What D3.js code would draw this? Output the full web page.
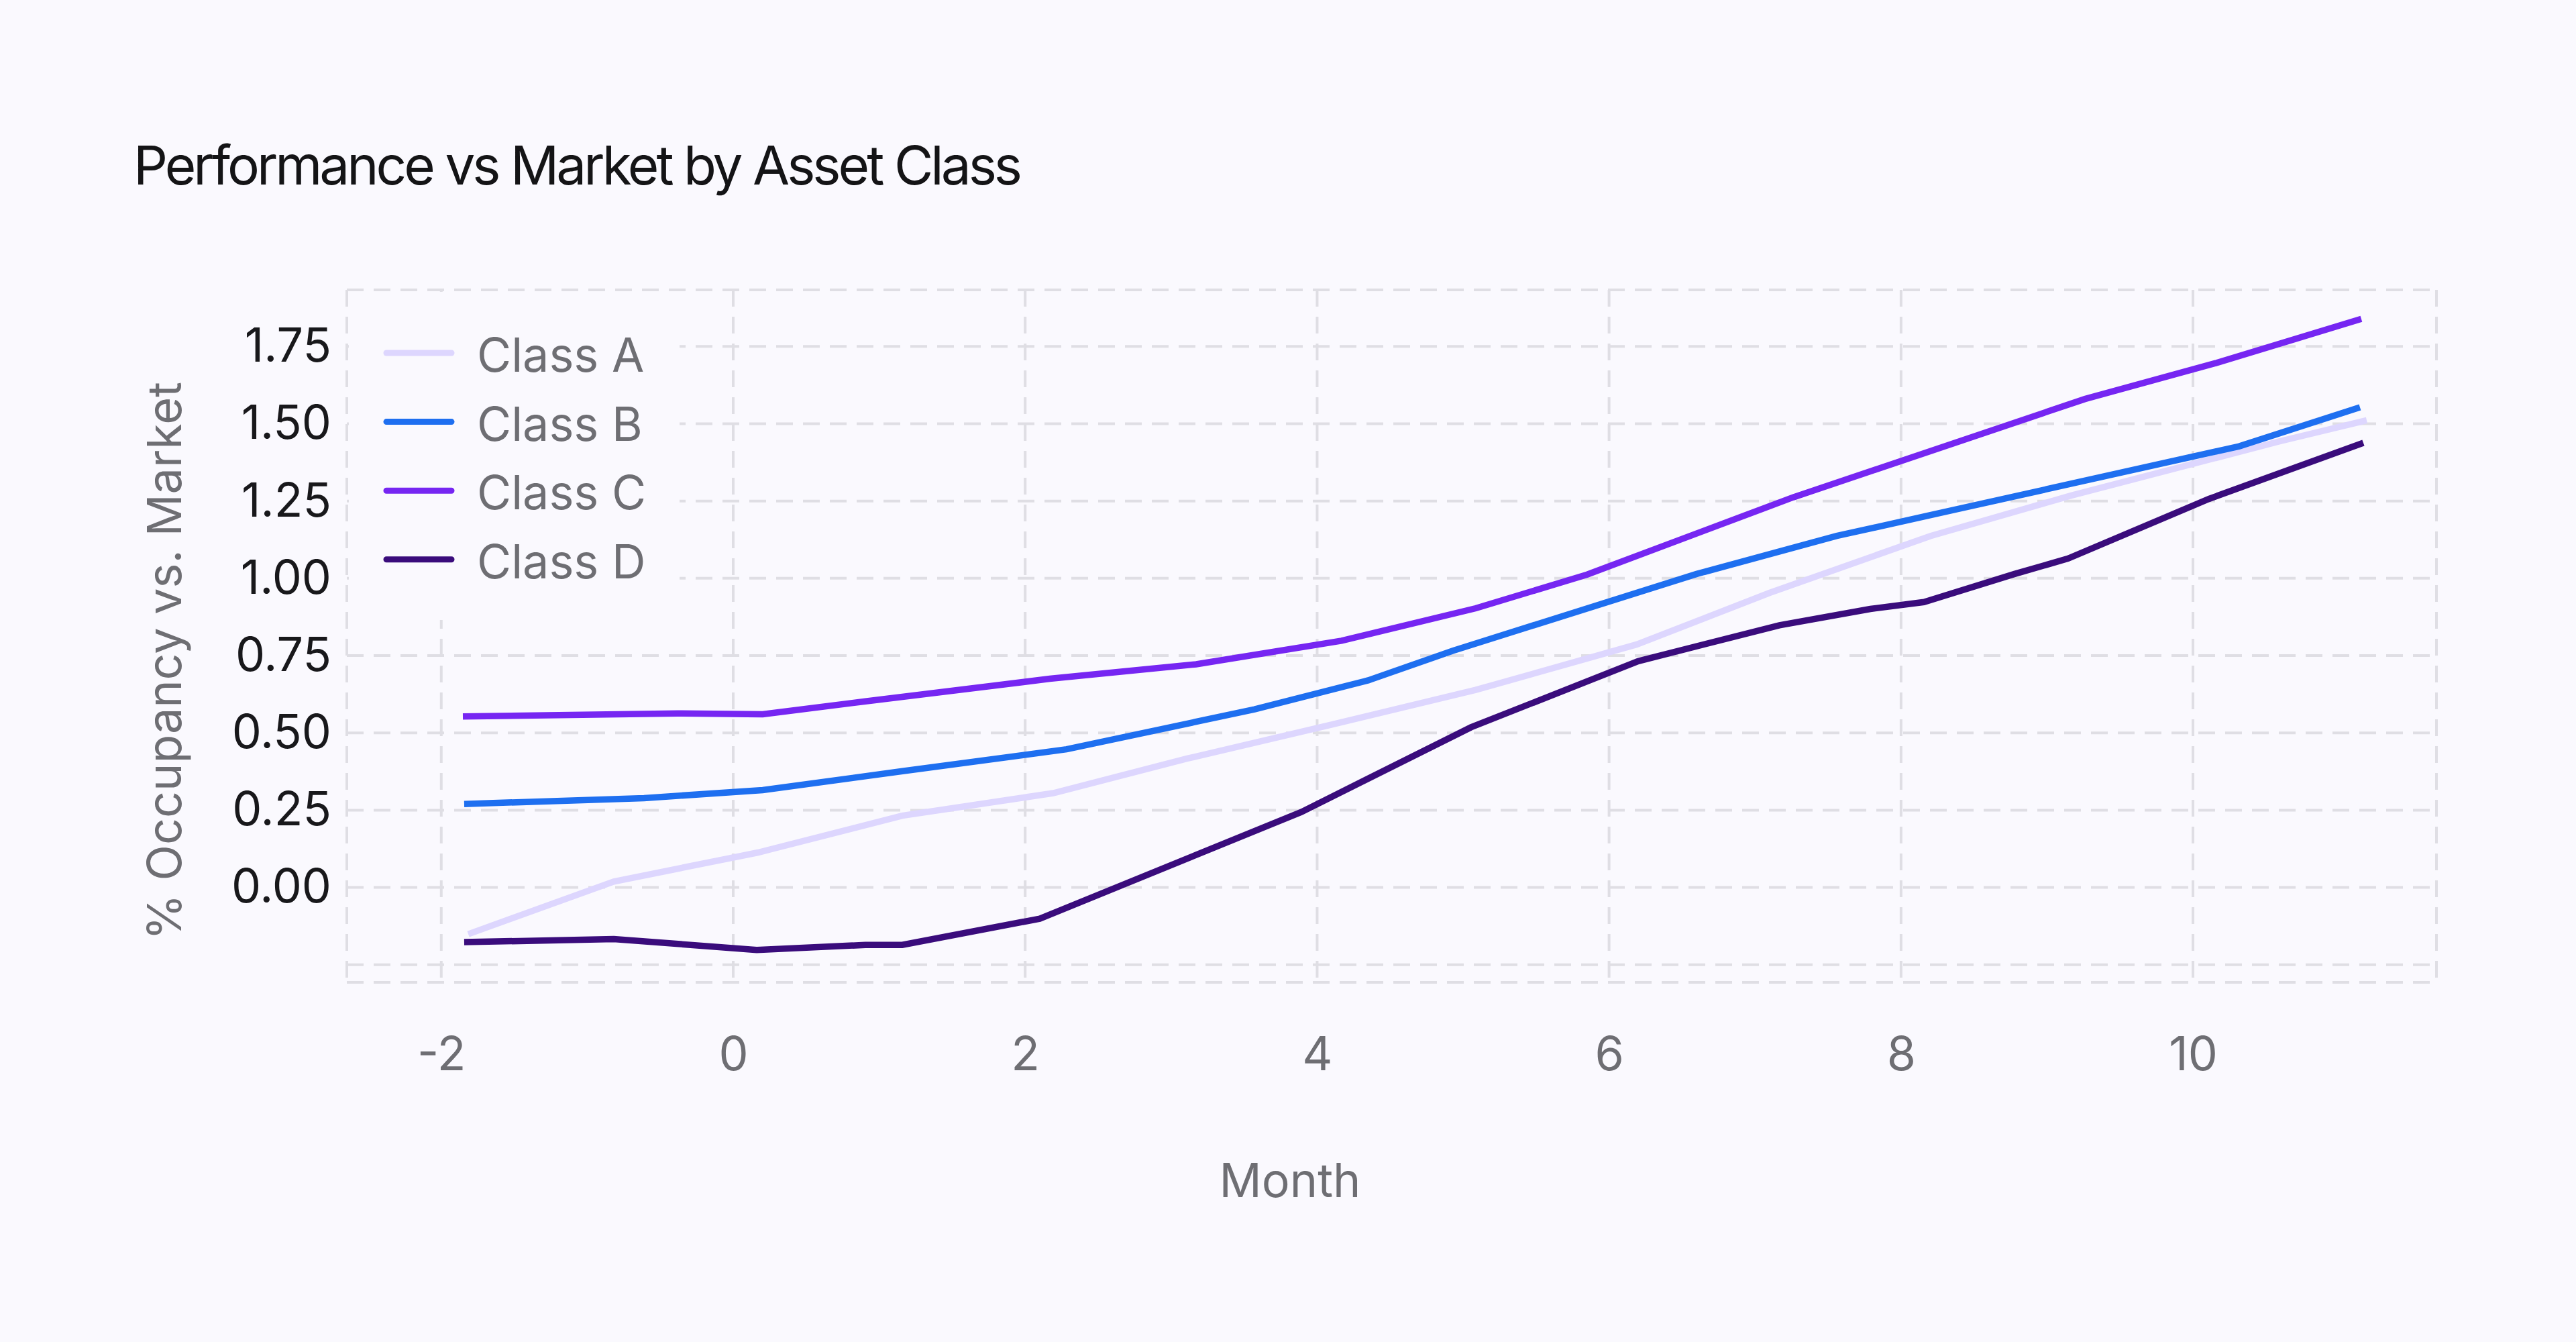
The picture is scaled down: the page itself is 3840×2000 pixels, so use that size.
<!DOCTYPE html>
<html>
<head>
<meta charset="utf-8">
<script src="https://cdn.jsdelivr.net/npm/d3@7"></script>
<style>
  html, body { margin: 0; padding: 0; background: #FAF9FE; }
  svg { display: block; }
  text { font-family: Inter, "Noto Sans", sans-serif; }
</style>
</head>
<body>
<div id="chart"></div>
<script>
// ---------- data ----------
const seriesNames = ["Class A", "Class B", "Class C", "Class D"];
const seriesColors = ["#DDD6FE", "#1E6FF0", "#7626F2", "#3A0C7C"];

const classA_x = [-1.815, -0.818, 0.170, 1.158, 2.192, 3.111, 4.10, 5.087, 6.19, 7.100, 8.203, 9.168, 10.593, 11.190];
const classA_y = [-0.151, 0.019, 0.113, 0.232, 0.305, 0.417, 0.527, 0.639, 0.786, 0.953, 1.137, 1.268, 1.443, 1.511];

const classB_x = [-1.843, -0.611, 0.202, 1.16, 2.284, 3.571, 4.350, 4.931, 6.60, 7.560, 10.317, 11.144];
const classB_y = [0.270, 0.289, 0.315, 0.376, 0.447, 0.576, 0.670, 0.766, 1.014, 1.137, 1.427, 1.553];

const classC_x = [-1.852, -0.381, 0.202, 0.905, 2.169, 3.171, 4.168, 5.087, 5.85, 7.261, 9.260, 10.156, 11.153];
const classC_y = [0.553, 0.563, 0.560, 0.602, 0.675, 0.722, 0.798, 0.903, 1.012, 1.262, 1.580, 1.696, 1.839];

const classD_x = [-1.843, -0.818, 0.161, 0.905, 1.158, 2.100, 3.892, 5.054, 6.20, 7.167, 7.790, 8.157, 8.778, 9.145, 10.110, 11.167];
const classD_y = [-0.177, -0.167, -0.202, -0.186, -0.186, -0.101, 0.244, 0.518, 0.732, 0.848, 0.901, 0.923, 1.014, 1.064, 1.257, 1.438];

const xTickValues = [-2, 0, 2, 4, 6, 8, 10];
const yTickValues = [0, 0.25, 0.5, 0.75, 1, 1.25, 1.5, 1.75];
const yGridValues = [-0.25, 0, 0.25, 0.5, 0.75, 1, 1.25, 1.5, 1.75];

const titleText = "Performance vs Market by Asset Class";
const xTitleText = "Month";
const yTitleText = "% Occupancy vs. Market";

// ---------- layout ----------
const W = 3840, H = 2000;
const plotLeft = 517, plotRight = 3632, plotTop = 432, plotBottom = 1464;
const gridColor = "#DFDEE4";
const dash = "25,15";

const svg = d3.select("#chart").append("svg")
  .attr("width", W).attr("height", H)
  .attr("viewBox", `0 0 ${W} ${H}`);

svg.append("rect").attr("width", W).attr("height", H).attr("fill", "#FAF9FE");

const x = d3.scaleLinear().domain([-2.647, 11.668]).range([plotLeft, plotRight]);
const y = d3.scaleLinear().domain([-0.307, 1.933]).range([plotBottom, plotTop]);

// grid
const grid = svg.append("g").attr("class", "grid")
  .attr("stroke", gridColor).attr("stroke-width", 4).attr("stroke-dasharray", dash).attr("fill", "none");

grid.selectAll("line.h").data(yGridValues).join("line").attr("class", "h")
  .attr("x1", plotLeft).attr("x2", plotRight)
  .attr("y1", d => y(d)).attr("y2", d => y(d));

grid.selectAll("line.v").data(xTickValues).join("line").attr("class", "v")
  .attr("y1", plotTop).attr("y2", plotBottom)
  .attr("x1", d => x(d)).attr("x2", d => x(d));

// legend background (hides grid beneath it)
svg.append("rect")
  .attr("x", plotLeft + 3).attr("y", plotTop + 3)
  .attr("width", 1013 - plotLeft - 3).attr("height", 924 - plotTop - 3)
  .attr("fill", "#FAF9FE");

// frame
const frame = svg.append("g")
  .attr("stroke", gridColor).attr("stroke-width", 4).attr("stroke-dasharray", dash).attr("fill", "none");
frame.append("line").attr("x1", plotLeft).attr("x2", plotRight).attr("y1", plotTop).attr("y2", plotTop);
frame.append("line").attr("x1", plotLeft).attr("x2", plotRight).attr("y1", plotBottom).attr("y2", plotBottom);
frame.append("line").attr("x1", plotLeft).attr("x2", plotLeft).attr("y1", plotTop).attr("y2", plotBottom);
frame.append("line").attr("x1", plotRight).attr("x2", plotRight).attr("y1", plotTop).attr("y2", plotBottom);

// series
const allX = [classA_x, classB_x, classC_x, classD_x];
const allY = [classA_y, classB_y, classC_y, classD_y];
const series = seriesNames.map((name, i) => ({
  name, color: seriesColors[i],
  values: allX[i].map((xv, j) => [xv, allY[i][j]])
}));

const line = d3.line().x(d => x(d[0])).y(d => y(d[1]));

svg.append("g").selectAll("path").data(series).join("path")
  .attr("d", d => line(d.values))
  .attr("fill", "none")
  .attr("stroke", d => d.color)
  .attr("stroke-width", 9.5)
  .attr("stroke-linejoin", "miter");

// axes
const xAxis = d3.axisBottom(x).tickValues(xTickValues).tickSize(0).tickPadding(81).tickFormat(d => String(d));
const gx = svg.append("g").attr("transform", `translate(0,${plotBottom})`).call(xAxis);
gx.select(".domain").remove();
gx.selectAll("text").attr("font-size", 70).attr("fill", "#6E6E73").attr("font-family", "Inter");

const yAxis = d3.axisLeft(y).tickValues(yTickValues).tickSize(0).tickPadding(23).tickFormat(d3.format(".2f"));
const gy = svg.append("g").attr("transform", `translate(${plotLeft},0)`).call(yAxis);
gy.select(".domain").remove();
gy.selectAll("text").attr("font-size", 70).attr("fill", "#18181B").attr("font-family", "Inter");

// legend
const legend = svg.append("g");
const rowY = i => 526 + i * 102.6;
legend.selectAll("line").data(series).join("line")
  .attr("x1", 576).attr("x2", 673)
  .attr("y1", (d, i) => rowY(i)).attr("y2", (d, i) => rowY(i))
  .attr("stroke", d => d.color).attr("stroke-width", 9).attr("stroke-linecap", "round");
legend.selectAll("text").data(series).join("text")
  .attr("x", 711).attr("y", (d, i) => rowY(i) + 28)
  .attr("font-size", 70).attr("fill", "#6E6E73")
  .text(d => d.name);

// titles
svg.append("text").attr("x", 199).attr("y", 275)
  .attr("font-size", 80).attr("letter-spacing", -4).attr("fill", "#141416")
  .text(titleText);

svg.append("text").attr("x", 1923).attr("y", 1784)
  .attr("text-anchor", "middle").attr("font-size", 70).attr("fill", "#6E6E73")
  .text(xTitleText);

svg.append("text").attr("transform", "translate(270,985) rotate(-90)")
  .attr("text-anchor", "middle").attr("font-size", 70).attr("fill", "#6E6E73")
  .text(yTitleText);
</script>
</body>
</html>
